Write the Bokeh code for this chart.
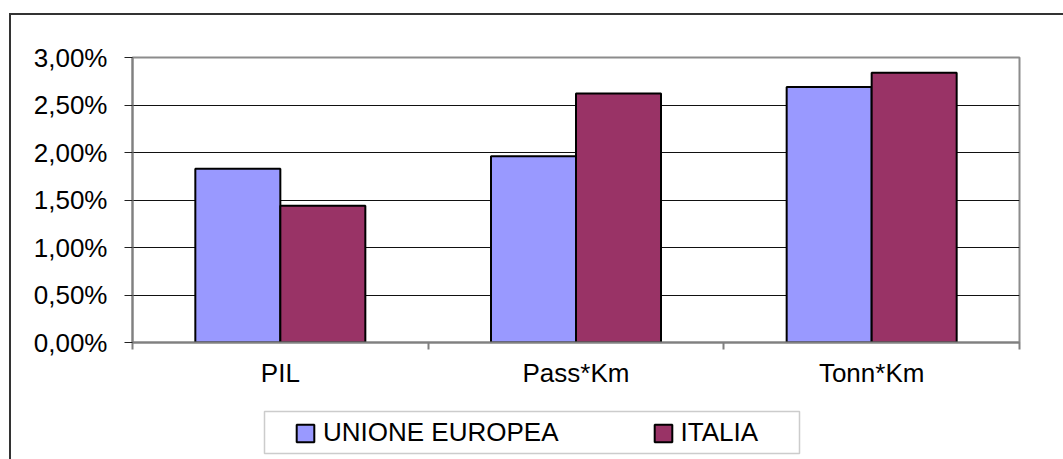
from bokeh.plotting import figure
from bokeh.layouts import column
from bokeh.models import (ColumnDataSource, Range1d, FixedTicker, CustomJSTickFormatter,
                          Legend, LegendItem, BoxAnnotation)
from bokeh.transform import dodge
from bokeh.embed import file_html
from bokeh.resources import INLINE

# ---- data (percent) ----
categories = ["PIL", "Pass*Km", "Tonn*Km"]
unione_europea = [1.83, 1.96, 2.69]
italia = [1.44, 2.62, 2.84]
y_ticks = [0.0, 0.5, 1.0, 1.5, 2.0, 2.5, 3.0]
series_names = ["UNIONE EUROPEA", "ITALIA"]
series_colors = ["#9999FF", "#993366"]

FONT = "Liberation Sans"
FS = "26px"

src = ColumnDataSource(dict(
    pos=[i + 0.5 for i in range(len(categories))],
    cat=categories,
    ue=unione_europea,
    it=italia,
))

BW = 0.2875

p = figure(width=1052, height=385,
           min_border_left=121, min_border_right=44,
           min_border_top=42, min_border_bottom=58,
           x_range=Range1d(0, len(categories)), y_range=Range1d(y_ticks[0], y_ticks[-1]),
           output_backend="svg", toolbar_location=None,
           background_fill_color="white", border_fill_color="white")

p.outline_line_color = "#8c8c8c"
p.outline_line_width = 2

r_ue = p.vbar(x=dodge("pos", -BW / 2), top="ue", width=BW, source=src,
              fill_color=series_colors[0], line_color="black", line_width=2)
r_it = p.vbar(x=dodge("pos", BW / 2), top="it", width=BW, source=src,
              fill_color=series_colors[1], line_color="black", line_width=2)

# x axis: labels at category centres, tick marks at boundaries
xa = p.xaxis[0]
xa.ticker = FixedTicker(ticks=[i + 0.5 for i in range(len(categories))],
                        minor_ticks=list(range(len(categories) + 1)))
xa.formatter = CustomJSTickFormatter(args=dict(labels=categories),
                                     code="return labels[Math.floor(tick)];")
xa.major_tick_line_color = None
xa.major_tick_out = 0
xa.major_tick_in = 0
xa.minor_tick_out = 7
xa.minor_tick_in = 0
xa.minor_tick_line_color = "#808080"
xa.minor_tick_line_width = 2
xa.axis_line_color = "#808080"
xa.axis_line_width = 2
xa.major_label_text_font = FONT
xa.major_label_text_font_size = FS
xa.major_label_text_color = "black"
xa.major_label_standoff = 8

ya = p.yaxis[0]
ya.ticker = FixedTicker(ticks=y_ticks, minor_ticks=[])
ya.formatter = CustomJSTickFormatter(code="return tick.toFixed(2).replace('.', ',') + '%';")
ya.major_tick_out = 8
ya.major_tick_in = 0
ya.major_tick_line_color = "#222222"
ya.minor_tick_line_color = None
ya.axis_line_color = "#808080"
ya.axis_line_width = 2
ya.major_label_text_font = FONT
ya.major_label_text_font_size = FS
ya.major_label_text_color = "black"
ya.major_label_standoff = 17

p.xgrid.grid_line_color = None
p.ygrid.ticker = FixedTicker(ticks=y_ticks)
p.ygrid.grid_line_color = "#111111"
p.ygrid.grid_line_width = 1

# ---- legend strip (same side borders as the chart, so frames stay aligned) ----
pl = figure(width=1052, height=59,
            min_border_left=121, min_border_right=44,
            min_border_top=5, min_border_bottom=0,
            x_range=Range1d(0, len(categories)), y_range=Range1d(0, 1),
            x_axis_location=None, y_axis_location=None,
            output_backend="svg", toolbar_location=None,
            background_fill_color="white", border_fill_color="white")
pl.grid.visible = False
pl.outline_line_color = None

box = BoxAnnotation(left=132, right=667, top=48, bottom=6,
                    left_units="screen", right_units="screen",
                    top_units="screen", bottom_units="screen",
                    fill_color="white", fill_alpha=1.0,
                    line_color="#555555", line_width=1.5, level="underlay")
pl.add_layout(box)

# legend keys: invisible copies of the two series
k_ue = pl.vbar(x=dodge("pos", -BW / 2), top="ue", width=BW, source=src, visible=False,
               fill_color=series_colors[0], line_color="black", line_width=2)
k_it = pl.vbar(x=dodge("pos", BW / 2), top="it", width=BW, source=src, visible=False,
               fill_color=series_colors[1], line_color="black", line_width=2)

legend = Legend(items=[LegendItem(label=series_names[0], renderers=[k_ue]),
                       LegendItem(label=series_names[1], renderers=[k_it])],
                orientation="horizontal", location=(162, 11),
                padding=0, margin=0, spacing=93,
                glyph_width=22, glyph_height=22, label_standoff=7,
                label_text_font=FONT, label_text_font_size=FS, label_text_color="black",
                border_line_color=None, background_fill_alpha=0,
                inactive_fill_alpha=0)
pl.add_layout(legend, "center")

layout = column(p, pl, spacing=0, margin=(13, 0, 0, 9),
                styles={"border-left": "2px solid #333333", "border-top": "2px solid #333333"})

open("out.html", "w").write(file_html(layout, INLINE))
